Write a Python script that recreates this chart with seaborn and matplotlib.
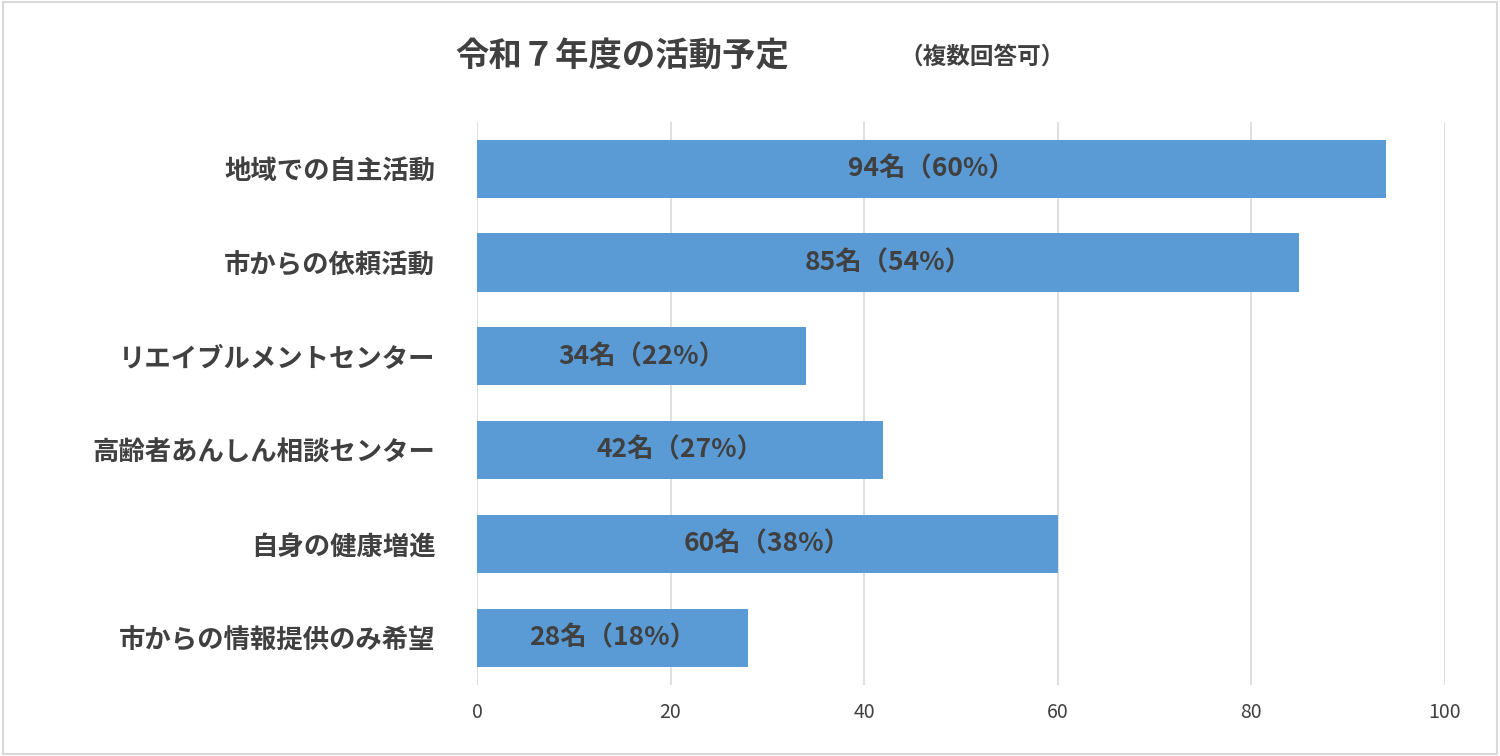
import matplotlib
matplotlib.use("Agg")
import matplotlib.pyplot as plt
import seaborn as sns
import pandas as pd

categories = ["地域での自主活動", "市からの依頼活動", "リエイブルメントセンター",
              "高齢者あんしん相談センター", "自身の健康増進", "市からの情報提供のみ希望"]
counts = [94, 85, 34, 42, 60, 28]
percents = [60, 54, 22, 27, 38, 18]
xticks = [0, 20, 40, 60, 80, 100]

plt.rcParams["font.family"] = "Noto Sans CJK JP"
df = pd.DataFrame({"cat": categories, "n": counts})

fig = plt.figure(figsize=(15, 7.56), dpi=100)
ax = fig.add_axes([0.318, 0.094, 0.645, 0.745])
sns.barplot(data=df, y="cat", x="n", color="#5B9BD5", saturation=1, width=0.62, ax=ax, zorder=3)
ax.set_xlim(0, 100)
ax.set_xticks(xticks)
ax.set_xticklabels([str(t) for t in xticks], fontsize=14, color="#404040")
ax.tick_params(axis="y", labelsize=19, colors="#404040", length=0, pad=30)
for lab in ax.get_yticklabels():
    lab.set_fontweight("bold")
ax.tick_params(axis="x", length=0, pad=12)
ax.set_xlabel(""); ax.set_ylabel("")
ax.grid(axis="x", color="#D9D9D9", linewidth=1.2, zorder=0)
for s in ax.spines.values():
    s.set_visible(False)
for i, (c, p) in enumerate(zip(counts, percents)):
    ax.text(c / 2, i, f"{c}名（{p}%）", ha="center", va="center",
            fontsize=19, fontweight="bold", color="#404040", zorder=4)

fig.text(0.415, 0.925, "令和７年度の活動予定", fontsize=24, fontweight="bold",
         color="#404040", ha="center", va="center")
fig.text(0.655, 0.925, "（複数回答可）", fontsize=17, fontweight="bold",
         color="#404040", ha="center", va="center")
fig.patches.append(plt.Rectangle((0.002, 0.003), 0.996, 0.994, transform=fig.transFigure,
                                 fill=False, edgecolor="#D9D9D9", linewidth=1.5))
fig.savefig("out.png", dpi=100, facecolor="white")
